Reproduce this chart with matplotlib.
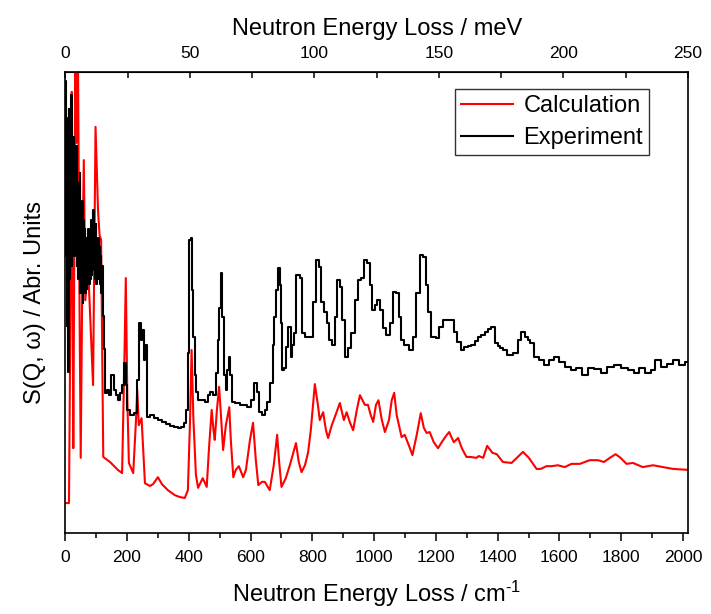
import numpy as np
import matplotlib
matplotlib.use('Agg')
import matplotlib.pyplot as plt
from matplotlib.ticker import MultipleLocator, NullLocator, FixedLocator

plt.rcParams['font.family'] = ['Liberation Sans', 'DejaVu Sans']
plt.rcParams['mathtext.fontset'] = 'custom'
plt.rcParams['mathtext.rm'] = 'Liberation Sans'
plt.rcParams['mathtext.it'] = 'Liberation Sans:italic'

CM_PER_MEV = 8.0655

# Calculated spectrum (cm-1, arbitrary intensity)
calc_x = [0, 12, 17, 21, 23, 26, 30, 33, 36, 41, 46, 50, 56, 60, 65, 73, 90, 98,
          106, 111, 116, 123, 145, 170, 184, 192, 196, 201, 206, 220, 229, 233, 238,
          247, 258, 274, 284, 300, 313, 332, 355, 371, 387, 397, 404, 409, 415, 423,
          430, 445, 458, 465, 474, 480, 484, 491, 498, 504, 511, 520, 531, 536, 544,
          552, 562, 576, 585, 598, 608, 617, 625, 637, 646, 662, 675, 686, 692, 700,
          714, 727, 747, 756, 765, 776, 786, 795, 808, 818, 824, 835, 844, 851, 863,
          873, 889, 902, 911, 921, 932, 944, 954, 970, 980, 989, 997, 1006, 1014,
          1025, 1035, 1048, 1057, 1065, 1073, 1089, 1099, 1112, 1124, 1138, 1151,
          1161, 1170, 1180, 1193, 1207, 1219, 1232, 1243, 1258, 1272, 1284, 1299,
          1313, 1331, 1339, 1353, 1366, 1383, 1397, 1417, 1445, 1462, 1482, 1501,
          1526, 1539, 1558, 1575, 1595, 1617, 1639, 1666, 1698, 1725, 1744, 1763,
          1782, 1798, 1817, 1838, 1870, 1903, 1935, 1968, 2016]
calc_y = [6.5, 6.5, 50.5, 95.7, 61.4, 18.4, 72.2, 105, 84.6, 105, 50.5, 16.3, 61.4,
          80.9, 50.5, 59.2, 32.1, 88.1, 70.1, 64.6, 63.6, 16.5, 15.4, 13.7, 13.0,
          39.7, 55.3, 28.8, 15.2, 13.0, 24.5, 31.0, 23.4, 24.9, 10.8, 10.2, 10.6,
          12.1, 10.6, 9.3, 8.2, 7.8, 7.6, 9.3, 24.5, 39.7, 24.5, 12.6, 9.8, 11.9,
          10.0, 18.0, 26.7, 22.3, 20.2, 26.7, 31.7, 25.6, 18.0, 23.4, 27.3, 20.2,
          12.1, 13.7, 14.5, 12.1, 13.7, 20.2, 23.9, 15.8, 10.4, 11.1, 11.1, 9.3,
          14.7, 21.3, 15.8, 10.0, 11.9, 14.7, 19.5, 15.4, 13.2, 14.7, 17.4, 22.3,
          32.3, 27.8, 24.5, 26.2, 22.3, 20.6, 23.4, 25.2, 28.2, 24.5, 26.2, 24.1,
          22.3, 26.7, 29.9, 27.8, 27.8, 25.6, 24.1, 27.8, 28.8, 24.5, 21.9, 24.5,
          28.8, 30.4, 25.6, 20.8, 21.3, 19.1, 16.9, 21.3, 26.0, 22.8, 21.7, 21.9,
          19.7, 18.4, 19.7, 21.0, 21.9, 19.7, 20.6, 18.4, 16.5, 16.5, 16.3, 16.7,
          16.3, 18.9, 17.4, 17.1, 15.4, 15.2, 16.3, 17.6, 16.3, 13.9, 13.9, 14.5,
          14.5, 14.7, 14.3, 15.0, 15.0, 15.8, 15.8, 15.4, 16.3, 17.1, 16.3, 15.0,
          15.2, 14.3, 14.7, 14.3, 13.9, 13.7]

# Measured spectrum, binned
expt_x = [0, 2, 4, 6, 8, 10, 12, 14, 16, 18, 20, 22, 24, 26, 28, 30, 32, 34, 36,
          38, 40, 42, 44, 46, 48, 50, 52, 54, 56, 58, 60, 62, 64, 66, 68, 70, 72,
          74, 76, 78, 80, 82, 84, 86, 88, 90, 92, 94, 96, 98, 100, 102, 104, 106,
          108, 110, 112, 114, 116, 118, 120, 122, 124, 126, 128, 132, 138, 145,
          154, 161, 167, 174, 180, 187, 193, 198, 204, 216, 229, 237, 242, 247,
          251, 256, 261, 268, 281, 294, 307, 319, 332, 345, 358, 371, 381, 387,
          394, 399, 404, 408, 413, 417, 421, 426, 436, 447, 458, 465, 474, 484,
          492, 497, 501, 506, 511, 517, 522, 528, 531, 536, 544, 556, 576, 598,
          607, 617, 624, 630, 641, 650, 657, 668, 674, 679, 687, 693, 696, 700,
          705, 713, 718, 727, 733, 738, 743, 751, 758, 765, 770, 782, 797, 808,
          816, 824, 833, 842, 851, 859, 867, 878, 883, 894, 900, 911, 921, 932,
          943, 954, 963, 973, 983, 992, 997, 1006, 1013, 1024, 1035, 1045, 1056,
          1067, 1077, 1083, 1089, 1105, 1121, 1132, 1142, 1153, 1164, 1171, 1180,
          1191, 1207, 1215, 1229, 1242, 1256, 1264, 1275, 1286, 1299, 1310, 1320,
          1331, 1342, 1353, 1364, 1374, 1385, 1396, 1404, 1412, 1423, 1439, 1461,
          1469, 1482, 1493, 1501, 1509, 1526, 1542, 1558, 1574, 1590, 1606, 1628,
          1644, 1662, 1682, 1703, 1724, 1747, 1763, 1790, 1811, 1831, 1849, 1866,
          1887, 1903, 1919, 1937, 1957, 1979, 1995, 2016]
expt_y = [98, 60, 90, 45, 85, 35, 92, 55, 88, 62, 95, 58, 80, 62, 86, 60, 78, 65,
          84, 58, 76, 55, 74, 57, 78, 52, 70, 55, 72, 50, 68, 54, 66, 52, 64, 53,
          62, 56, 66, 54, 63, 55, 68, 56, 66, 58, 70, 57, 65, 55, 67, 54, 63, 55,
          64, 56, 62, 54, 60, 52, 58, 50, 47, 44, 40, 30.4, 31.0, 29.9, 34.3, 31.0,
          29.9, 28.8, 30.4, 32.1, 36.9, 32.1, 26.7, 25.6, 26.0, 33.2, 45.5, 41.9,
          44.0, 37.5, 40.8, 25.2, 25.6, 24.9, 24.5, 24.1, 23.6, 23.2, 23.0, 22.8,
          23.0, 23.9, 26.7, 39.0, 63.6, 64.0, 52.7, 42.5, 34.3, 30.6, 28.8, 28.8,
          28.4, 29.9, 30.6, 29.9, 34.7, 41.9, 48.8, 56.4, 46.9, 34.3, 31.0, 35.4,
          38.2, 34.3, 28.4, 28.2, 27.8, 27.3, 28.8, 32.5, 30.6, 26.2, 25.6, 26.7,
          28.4, 32.5, 40.8, 46.9, 52.7, 57.5, 53.8, 45.5, 35.4, 35.8, 40.3, 44.7,
          38.2, 40.8, 43.4, 56.0, 56.0, 55.3, 43.4, 42.5, 42.5, 50.1, 59.2, 57.7,
          50.1, 47.9, 45.5, 41.9, 40.8, 46.9, 54.9, 53.4, 46.2, 38.2, 40.1, 43.4,
          50.5, 54.9, 55.3, 59.2, 58.6, 53.8, 48.4, 49.5, 50.5, 48.4, 44.5, 42.9,
          45.5, 52.3, 52.1, 46.9, 41.9, 40.8, 39.7, 42.5, 52.1, 60.3, 59.9, 53.8,
          47.9, 42.5, 42.3, 44.7, 46.2, 46.2, 46.2, 43.6, 41.4, 39.7, 40.3, 40.6,
          40.8, 41.6, 42.5, 42.9, 43.6, 44.2, 44.7, 41.2, 40.6, 40.1, 39.7, 38.6,
          39.0, 41.9, 43.6, 42.5, 41.9, 41.2, 38.2, 37.5, 36.4, 37.5, 38.2, 37.1,
          36.0, 35.4, 35.8, 34.3, 35.8, 35.6, 34.7, 36.0, 36.4, 35.8, 35.4, 34.7,
          35.8, 34.7, 35.4, 37.5, 36.0, 36.7, 37.5, 36.4, 37.1]

mev_ticks = [0, 50, 100, 150, 200, 250]
mev_minor = [25, 75, 125, 175, 225]

fig = plt.figure(figsize=(7.11, 6.14), dpi=100)
ax = fig.add_axes([0.0918, 0.1319, 0.8759, 0.7508])

ax.plot(calc_x, calc_y, color='#ff0000', lw=1.5, label='Calculation')
ax.plot(expt_x, expt_y, color='black', lw=1.5, drawstyle='steps-mid',
        label='Experiment')

ax.set_xlim(0, 250 * CM_PER_MEV)
ax.set_ylim(0, 100)

ax.xaxis.set_major_locator(FixedLocator(range(0, 2001, 200)))
ax.xaxis.set_minor_locator(FixedLocator(range(100, 2001, 200)))
ax.yaxis.set_major_locator(NullLocator())
ax.tick_params(axis='x', which='major', direction='out', length=6, width=1.1,
               labelsize=12.5, pad=6)
ax.tick_params(axis='x', which='minor', direction='out', length=3.5, width=1.1)
for s in ax.spines.values():
    s.set_linewidth(1.2)

ax.set_xlabel(r'Neutron Energy Loss / cm$^{\text{-1}}$', fontsize=17, labelpad=10)
ax.set_ylabel('S(Q, ω) / Abr. Units', fontsize=17, labelpad=14)

# energy scale in meV along the top
top = ax.secondary_xaxis('top', functions=(lambda x: x / CM_PER_MEV,
                                           lambda m: m * CM_PER_MEV))
top.xaxis.set_major_locator(FixedLocator(mev_ticks))
top.xaxis.set_minor_locator(FixedLocator(mev_minor))
top.tick_params(axis='x', which='major', direction='in', length=4, width=1.1,
                labelsize=12.5, pad=8)
top.tick_params(axis='x', which='minor', direction='in', length=4, width=1.1)
top.set_xlabel('Neutron Energy Loss / meV', fontsize=17, labelpad=8)

leg = ax.legend(loc='upper right', bbox_to_anchor=(0.9373, 0.963), fontsize=17,
                frameon=True, fancybox=False, handlelength=2.2,
                borderpad=0.25, labelspacing=0.42, handletextpad=0.45,
                borderaxespad=0)
leg.get_frame().set_edgecolor('black')
leg.get_frame().set_linewidth(1.0)

fig.savefig('out.png', dpi=100)
